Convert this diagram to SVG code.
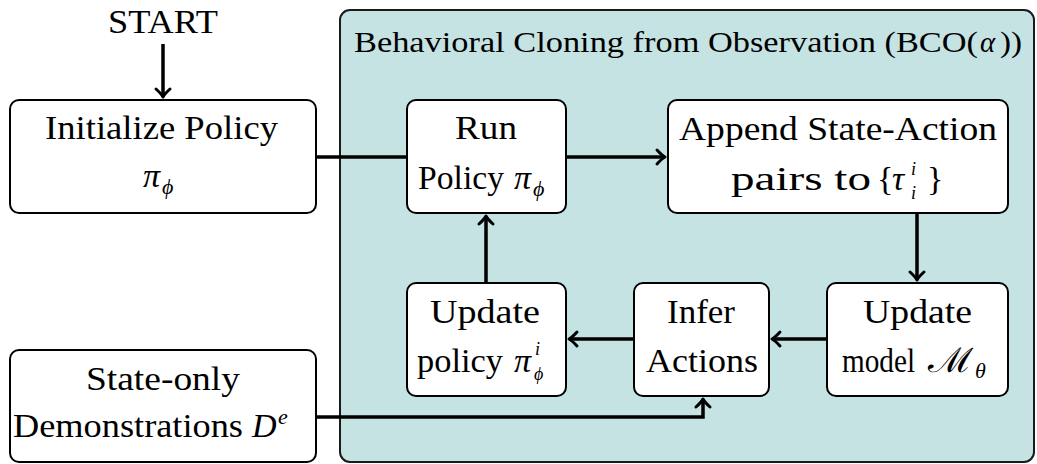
<svg xmlns="http://www.w3.org/2000/svg" width="1037" height="464" viewBox="0 0 1037 464">
<style>
text{font-family:"Liberation Serif","Times New Roman","DejaVu Serif",serif}
.t{font-size:34px;fill:#000}
.m{font-style:italic}
.s{font-size:22px}
.ss{font-size:18px}
.box{fill:#fff;stroke:#000;stroke-width:2}
.c{fill:none;stroke:#000;stroke-width:3.5}
</style>
<defs>
<marker id="ah" viewBox="-12 -10 14 20" refX="0" refY="0" markerWidth="14" markerHeight="20" markerUnits="userSpaceOnUse" orient="auto" overflow="visible">
<path d="M-8,-7 Q-3,-1.5 0,0 Q-3,1.5 -8,7" fill="none" stroke="#000" stroke-width="3" stroke-linecap="round" stroke-linejoin="round"/>
</marker>
</defs>
<rect width="1037" height="464" fill="#fff"/>

<g id="bco">
<rect x="340" y="10" width="694" height="452" rx="10" fill="#c5e3e3" stroke="#1a1a1a" stroke-width="2"/>
<text class="t" style="font-size:29px" y="52"><tspan x="354" textLength="624" lengthAdjust="spacingAndGlyphs">Behavioral Cloning from Observation (BCO(</tspan><tspan class="m" x="980">α</tspan><tspan x="1000" textLength="22" lengthAdjust="spacingAndGlyphs">))</tspan></text>
</g>

<g id="connectors">
<path class="c" d="M163,44 L163,97" marker-end="url(#ah)"/>
<path class="c" d="M316,157 L407,157"/>
<path class="c" d="M566,157 L665,157" marker-end="url(#ah)"/>
<path class="c" d="M917,213 L917,280" marker-end="url(#ah)"/>
<path class="c" d="M827,339 L772,339" marker-end="url(#ah)"/>
<path class="c" d="M634,339 L569,339" marker-end="url(#ah)"/>
<path class="c" d="M486,283 L486,216" marker-end="url(#ah)"/>
<path class="c" d="M316,417 L703,417 L703,399" marker-end="url(#ah)"/>
</g>

<g id="start">
<text class="t" x="108" y="33" textLength="110" lengthAdjust="spacingAndGlyphs">START</text>
</g>

<g id="init">
<rect class="box" x="10" y="100" width="306" height="113" rx="9"/>
<text class="t" x="45" y="139" textLength="233" lengthAdjust="spacingAndGlyphs">Initialize Policy</text>
<text class="t" y="187"><tspan class="m" x="143">π</tspan><tspan class="m s" x="162" y="194">ϕ</tspan></text>
</g>

<g id="run">
<rect class="box" x="407" y="100" width="159" height="113" rx="9"/>
<text class="t" x="455" y="139" textLength="62" lengthAdjust="spacingAndGlyphs">Run</text>
<text class="t" y="189"><tspan x="418" textLength="86" lengthAdjust="spacingAndGlyphs">Policy</tspan><tspan class="m" x="514">π</tspan><tspan class="m s" x="533" y="196">ϕ</tspan></text>
</g>

<g id="append">
<rect class="box" x="668" y="100" width="340" height="113" rx="9"/>
<text class="t" x="679" y="140" textLength="318" lengthAdjust="spacingAndGlyphs">Append State-Action</text>
<text class="t" y="190"><tspan x="731" textLength="140" lengthAdjust="spacingAndGlyphs">pairs to</tspan><tspan x="877">{</tspan><tspan class="m" x="892">τ</tspan><tspan class="m ss" x="911" y="175">i</tspan><tspan class="m ss" x="911" y="199">i</tspan><tspan x="927" y="190">}</tspan></text>
</g>

<g id="update-model">
<rect class="box" x="827" y="283" width="181" height="113" rx="9"/>
<text class="t" x="863" y="323" textLength="109" lengthAdjust="spacingAndGlyphs">Update</text>
<text class="t" y="372"><tspan x="842" textLength="73" lengthAdjust="spacingAndGlyphs">model</tspan><tspan x="928" textLength="45" lengthAdjust="spacingAndGlyphs">ℳ</tspan><tspan class="m s" x="975" y="378">θ</tspan></text>
</g>

<g id="infer">
<rect class="box" x="634" y="283" width="135" height="113" rx="9"/>
<text class="t" x="667" y="323" textLength="68" lengthAdjust="spacingAndGlyphs">Infer</text>
<text class="t" x="646" y="372" textLength="112" lengthAdjust="spacingAndGlyphs">Actions</text>
</g>

<g id="update-policy">
<rect class="box" x="407" y="283" width="159" height="113" rx="9"/>
<text class="t" x="430" y="323" textLength="110" lengthAdjust="spacingAndGlyphs">Update</text>
<text class="t" y="372"><tspan x="417" textLength="86" lengthAdjust="spacingAndGlyphs">policy</tspan><tspan class="m" x="514">π</tspan><tspan class="m ss" x="535" y="355">i</tspan><tspan class="m ss" x="534" y="380">ϕ</tspan></text>
</g>

<g id="demos">
<rect class="box" x="10" y="350" width="306" height="112" rx="9"/>
<text class="t" x="86" y="390" textLength="154" lengthAdjust="spacingAndGlyphs">State-only</text>
<text class="t" y="437"><tspan x="13" textLength="230" lengthAdjust="spacingAndGlyphs">Demonstrations</tspan><tspan class="m" x="252">D</tspan><tspan class="m s" x="278" y="424">e</tspan></text>
</g>
</svg>
